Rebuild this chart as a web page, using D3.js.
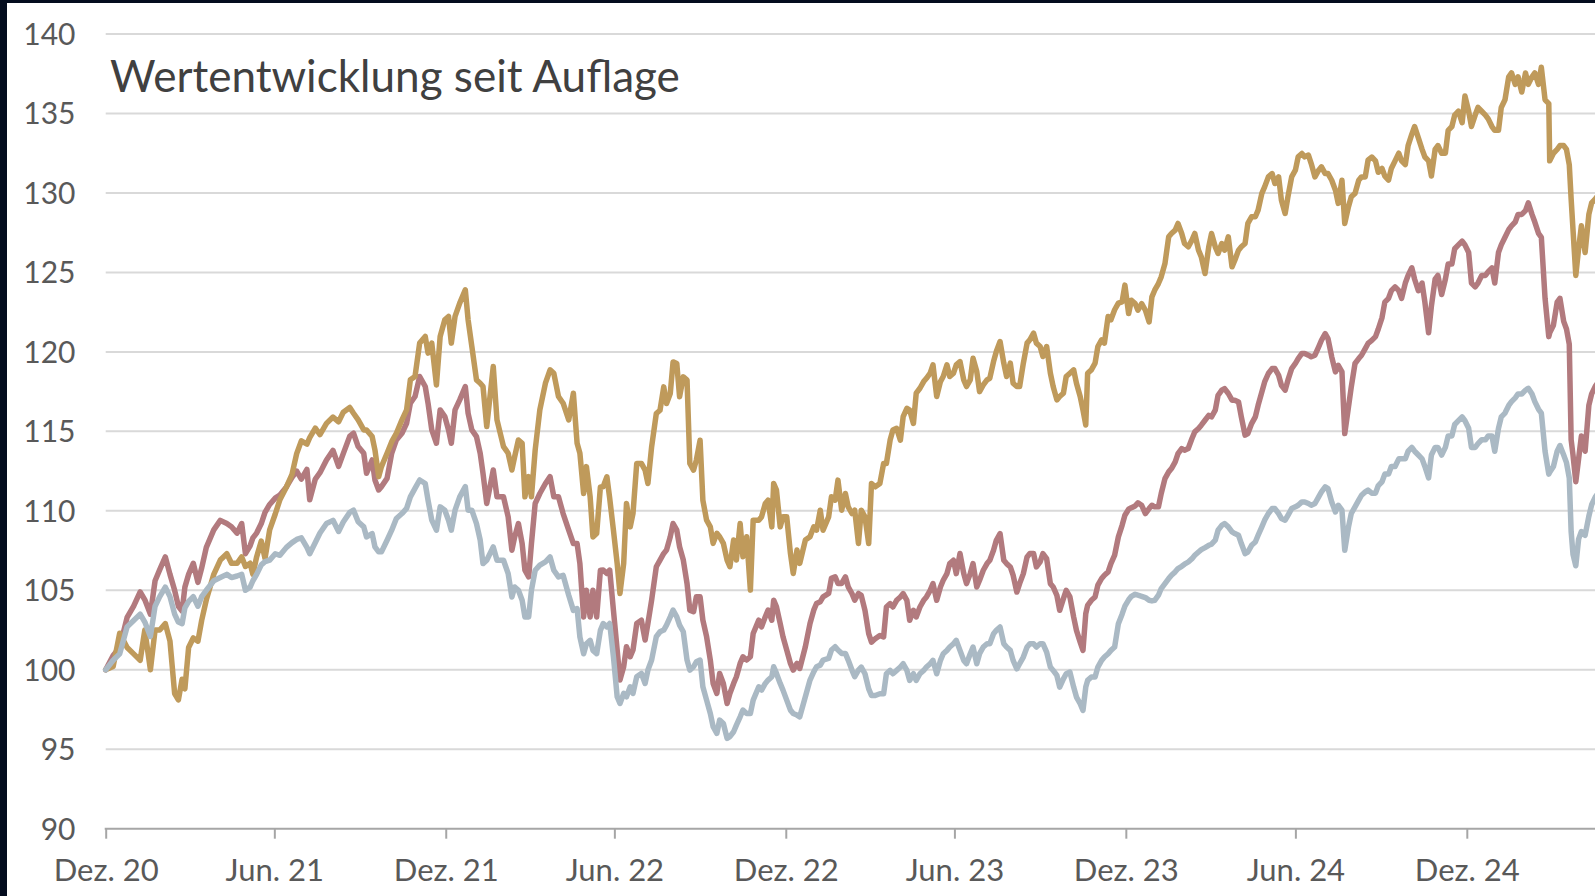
<!DOCTYPE html>
<html>
<head>
<meta charset="utf-8">
<script src="https://cdn.jsdelivr.net/npm/d3@7"></script>
<style>
html,body{margin:0;padding:0;background:#fff;overflow:hidden}
svg{display:block}
</style>
</head>
<body>
<svg id="chart" width="1595" height="896"></svg>
<script>
// ---------- data ----------
const chartTitle = "Wertentwicklung seit Auflage";
const launchDate = "2020-12-31";
const yTickValues = [90, 95, 100, 105, 110, 115, 120, 125, 130, 135, 140];
const xTickDates = ["2020-12-31","2021-06-30","2021-12-31","2022-06-30","2022-12-31","2023-06-30","2023-12-31","2024-06-30","2024-12-31"];
const xTickLabels = ["Dez. 20","Jun. 21","Dez. 21","Jun. 22","Dez. 22","Jun. 23","Dez. 23","Jun. 24","Dez. 24"];

// days since launch
const dayOffsets = [
0,8,15,23,30,37,42,48,53,58,64,69,74,78,82,85,89,94,99,103,108,116,123,130,135,141,146,150,155,158,162,167,171,176,182,187,194,200,205,210,216,219,225,230,237,244,250,255,262,
266,271,277,280,286,289,293,296,302,307,312,318,323,327,332,337,343,346,350,355,359,364,368,371,375,380,386,389,393,398,402,405,409,416,420,427,432,436,439,443,447,450,454,457,461,466,472,477,481,486,491,497,502,506,509,513,516,520,523,527,531,
534,538,541,545,549,552,556,559,563,566,570,575,579,582,586,591,595,599,602,606,609,613,616,620,624,627,631,634,638,641,645,649,652,656,659,663,667,670,674,677,681,684,688,692,695,701,704,708,711,715,717,720,724,727,731,735,738,742,745,751,756,760,763,767,770,776,779,783,786,790,794,797,801,804,808,
811,815,819,822,826,831,835,838,842,845,849,853,856,860,863,867,870,874,878,881,885,888,892,896,899,903,906,910,913,917,921,924,928,931,935,938,942,946,949,953,956,960,964,967,971,974,978,981,985,989,992,996,999,1003,1006,1010,1014,1017,1021,1024,1028,1031,1035,1039,1042,1046,1049,1052,1054,1058,1062,1065,1069,1072,1076,1079,1083,1087,
1091,1094,1098,1101,1105,1108,1112,1116,1120,1123,1126,1130,1133,1137,1141,1144,1148,1151,1155,1158,1162,1166,1169,1173,1176,1180,1184,1187,1191,1194,1198,1201,1205,1209,1212,1216,1219,1223,1226,1230,1234,1237,1241,1244,1248,1252,1255,1259,1262,1266,1269,1273,1277,1280,1284,1287,1291,1294,1298,1302,1305,1309,1312,1316,1320,1323,1327,1330,1334,1337,1341,1345,1348,1352,1355,
1359,1363,1366,1370,1373,1377,1380,1384,1388,1391,1395,1398,1402,1405,1409,1413,1416,1420,1423,1427,1430,1434,1438,1441,1445,1448,1452,1456,1459,1463,1466,1470,1473,1477,1481,1484,1488,1491,1495,1498,1502,1506,1509,1513,1516,1520,1524,1527,1531,1534,1538,1541,1545,1549,1550,1554,1558,1561,1565,1568,1571,1573,1575,1578,1581,1584,1588,1592,1595,1599,1602
];

const seriesGold = [
100.0,100.2,102.3,101.4,101.0,100.6,102.5,100.0,102.5,102.5,102.9,101.8,98.5,98.1,99.4,98.8,101.4,102.0,101.8,103.1,104.4,106.0,106.9,107.3,106.7,106.7,107.1,106.5,106.7,106.0,107.1,108.1,107.0,108.8,109.8,110.7,111.5,112.3,113.6,114.4,114.2,114.6,115.2,114.8,115.5,115.9,115.6,116.2,116.5,
116.14,115.72,115.09,115.09,114.67,113.83,112.15,112.78,113.62,114.35,114.88,115.72,116.35,118.24,118.45,120.55,120.97,119.92,120.55,117.92,120.97,122.02,122.23,120.55,122.23,123.07,123.91,122.02,120.34,118.24,118.03,117.82,115.30,119.08,115.72,114.04,113.62,112.57,113.41,114.46,114.25,110.88,112.15,110.88,113.83,116.35,118.03,118.87,118.66,117.19,116.77,115.72,117.40,114.25,113.62,111.09,112.78,110.88,108.36,108.57,111.50,
111.51,112.14,110.78,108.78,106.69,104.80,106.69,110.46,108.99,109.83,112.98,112.98,112.56,111.72,114.03,116.12,116.33,117.80,116.75,117.38,119.37,119.27,117.17,118.43,118.22,112.98,112.56,113.19,114.44,110.67,109.41,108.99,107.95,108.58,108.37,107.95,106.90,106.48,108.16,106.90,109.20,107.11,108.37,105.01,109.41,109.41,109.62,110.46,110.67,108.99,111.72,111.30,108.99,109.62,109.62,107.32,106.06,107.53,106.69,108.16,108.37,108.99,108.78,110.04,108.78,109.62,110.88,110.67,111.93,110.04,111.09,110.25,109.83,110.04,107.95,
110.04,109.62,107.94,111.72,111.51,111.72,112.98,112.98,114.45,115.08,115.19,114.45,115.92,116.45,116.34,115.50,117.40,117.71,118.13,118.34,118.66,119.18,117.19,118.13,118.45,119.18,118.45,118.66,119.18,119.39,118.24,117.82,118.24,119.60,118.76,117.50,117.92,118.24,118.34,119.39,120.02,120.65,119.29,118.45,119.29,118.03,117.82,117.82,119.29,120.55,120.76,121.18,120.55,120.34,119.71,120.34,118.66,117.82,116.98,117.19,117.40,118.45,118.66,118.87,118.03,117.19,116.34,115.40,118.66,118.87,119.29,120.34,120.76,120.55,122.23,122.02,122.65,123.07,
123.15,124.20,122.41,123.25,123.04,122.62,123.04,122.62,121.89,123.46,123.88,124.30,124.72,125.56,127.24,127.45,127.66,128.08,127.45,126.82,126.61,127.03,127.45,126.40,125.98,124.93,126.61,127.45,126.61,126.19,126.82,126.40,127.24,125.35,125.77,126.40,126.61,126.82,128.08,128.50,128.50,128.92,129.97,130.38,131.01,131.22,130.59,131.01,129.54,128.71,129.76,131.01,131.43,132.27,132.48,132.27,132.38,131.85,131.01,131.43,131.64,131.22,131.22,130.80,130.17,129.34,130.80,128.08,129.13,129.76,129.97,130.80,131.01,131.01,132.06,
132.26,132.02,131.30,131.54,131.06,130.81,131.54,132.02,132.50,132.02,131.78,132.98,133.70,134.18,133.46,132.74,132.26,132.02,131.06,132.74,132.98,132.50,132.50,133.94,134.18,134.90,135.14,134.42,136.10,135.14,134.18,134.90,135.38,135.14,134.90,134.66,134.18,133.94,133.94,135.38,135.86,137.31,137.55,136.83,137.31,136.35,137.55,136.83,137.31,137.55,136.83,137.91,135.86,135.62,132.02,132.50,132.74,132.98,132.98,132.74,131.78,129.62,127.69,124.81,126.49,127.93,126.25,128.65,129.37,129.62,129.86
];

const seriesRed = [
100.0,100.9,101.4,103.3,104.0,104.9,104.4,103.5,105.6,106.3,107.1,106.0,105.0,104.0,103.7,105.2,106.0,106.7,105.5,106.4,107.7,108.8,109.4,109.2,109.0,108.6,109.2,107.3,107.8,108.3,108.6,109.2,109.9,110.4,110.8,111.0,111.5,112.1,112.5,112.0,112.6,110.7,112.0,112.4,113.2,113.8,112.8,113.6,114.7,
114.88,114.04,113.62,112.36,113.20,111.94,111.31,111.52,112.04,113.62,114.46,114.88,115.51,116.77,117.19,118.45,117.82,116.77,115.09,114.25,116.35,115.93,115.09,114.25,116.35,116.98,117.82,116.14,115.09,114.67,113.62,112.36,110.46,112.57,110.88,110.88,109.62,107.52,108.36,109.20,107.94,106.26,105.84,107.94,110.46,111.09,111.72,112.15,110.88,110.88,109.83,108.78,107.94,107.94,106.68,103.32,105.00,103.32,105.00,103.32,106.26,
106.27,106.06,106.27,103.75,101.24,99.35,100.19,101.45,100.82,101.24,102.91,103.12,101.87,102.91,104.38,106.48,106.90,107.32,107.53,108.37,109.20,108.78,107.74,106.90,105.43,103.75,103.65,104.59,104.59,103.12,102.08,100.61,99.14,98.51,99.77,99.14,97.88,98.51,99.14,99.56,100.40,100.82,100.61,100.82,102.28,103.12,102.70,103.33,103.75,103.12,104.38,103.96,102.91,102.08,101.24,100.40,99.98,100.40,100.08,101.45,102.91,103.75,104.17,104.28,104.59,104.80,105.75,105.85,105.43,105.43,105.85,105.22,104.80,104.38,104.80,
104.68,103.74,102.27,101.74,101.95,102.16,102.06,103.95,104.16,103.95,104.37,104.58,104.79,104.37,103.11,103.74,103.32,103.95,104.37,104.58,105.00,105.42,104.37,105.21,105.63,106.05,106.68,106.89,106.05,107.31,106.05,105.42,106.05,106.68,105.21,105.63,106.26,106.68,106.89,107.52,108.15,108.57,106.89,106.68,106.47,105.95,104.89,105.42,106.05,107.10,107.31,107.31,106.47,106.79,107.31,106.99,105.42,105.21,104.68,103.74,104.48,105.00,104.58,103.32,102.48,101.74,101.22,103.53,104.05,104.37,104.58,105.32,105.74,105.95,106.16,106.68,107.21,108.36,
109.09,109.72,110.10,110.20,110.31,110.50,110.35,109.83,110.14,110.35,110.25,110.25,111.09,112.03,112.45,112.66,113.08,113.60,113.92,113.81,113.92,114.55,114.97,115.18,115.39,115.70,116.01,115.91,116.33,117.27,117.59,117.69,117.38,116.96,116.96,116.85,115.91,114.76,114.86,115.49,115.91,116.64,117.48,118.11,118.64,118.95,118.95,118.53,117.90,117.59,118.22,118.95,119.27,119.58,119.90,119.90,119.79,119.69,119.79,120.32,120.73,121.15,120.84,119.69,118.74,119.16,118.74,114.86,116.54,117.80,119.27,119.58,119.79,120.21,120.53,
120.72,120.96,121.44,122.16,123.13,123.37,123.85,124.09,123.85,123.37,124.33,124.81,125.29,124.57,123.85,124.33,123.13,121.20,122.88,124.57,124.81,123.61,124.57,125.53,125.53,126.49,126.73,126.97,126.73,126.25,124.33,124.09,124.33,124.81,124.81,125.05,125.29,124.33,126.25,126.73,127.21,127.69,127.93,128.17,128.65,128.65,128.89,129.37,128.65,128.17,127.45,127.21,123.37,120.96,121.20,121.68,123.13,123.37,121.92,121.44,120.48,114.47,113.51,111.83,113.27,114.71,113.75,116.63,117.36,117.84,118.08
];

const seriesBlue = [
100.0,100.6,101.0,102.7,103.1,103.5,103.0,102.1,104.0,104.6,105.2,104.6,103.5,103.0,102.9,103.9,104.3,104.6,104.0,104.6,105.0,105.6,105.8,106.0,105.8,105.9,106.0,105.0,105.2,105.6,106.0,106.6,106.8,106.9,107.3,107.2,107.7,108.0,108.2,108.3,107.7,107.3,108.0,108.6,109.2,109.4,108.7,109.3,109.9,
110.04,109.31,108.99,108.36,108.57,107.73,107.42,107.42,108.15,108.78,109.52,109.83,110.15,110.88,111.41,111.94,111.72,110.67,109.41,108.78,110.25,110.04,109.41,108.78,110.04,110.88,111.52,110.04,110.04,109.20,108.15,106.68,106.89,107.73,106.89,106.89,106.05,104.58,105.21,105.00,104.37,103.32,103.32,105.00,106.26,106.58,106.79,107.10,106.26,105.84,105.94,104.69,103.74,103.85,102.06,101.01,101.64,101.85,101.22,101.01,102.48,
102.91,102.70,102.91,100.82,98.30,97.88,98.51,98.30,98.93,98.51,99.56,99.77,99.14,99.98,100.61,102.08,102.39,102.50,102.81,103.33,103.75,103.33,102.81,102.39,100.61,99.98,100.19,100.50,100.61,98.93,98.09,97.25,96.42,96.00,96.83,96.62,95.68,95.79,96.10,96.52,97.04,97.46,97.25,97.25,98.09,98.93,98.72,99.14,99.35,99.56,100.19,99.77,99.14,98.72,98.09,97.46,97.25,97.15,97.04,98.30,99.35,99.87,100.19,100.29,100.61,100.71,101.24,101.45,101.24,101.03,101.03,100.61,99.98,99.56,99.98,
100.17,99.75,98.80,98.38,98.38,98.49,98.49,99.75,99.96,99.75,99.96,100.17,100.38,99.96,99.33,99.75,99.33,99.75,99.96,100.17,100.38,100.59,99.75,100.59,101.01,101.22,101.43,101.64,101.85,101.22,100.59,100.38,101.01,101.43,100.38,101.01,101.43,101.64,101.64,102.27,102.48,102.69,101.64,101.43,101.22,100.59,100.06,100.38,100.80,101.43,101.64,101.64,101.43,101.64,101.64,101.11,100.17,99.96,99.64,98.91,99.43,99.75,99.85,98.91,98.28,97.86,97.44,98.91,99.33,99.54,99.54,100.17,100.59,100.80,101.01,101.22,101.43,102.90,
103.5,104.0,104.4,104.62,104.75,104.69,104.62,104.54,104.37,104.33,104.37,104.69,105.11,105.42,105.74,105.95,106.16,106.37,106.51,106.64,106.78,106.99,107.20,107.41,107.56,107.69,107.83,107.90,108.15,108.78,109.09,109.20,108.99,108.67,108.57,108.46,107.94,107.31,107.41,107.83,108.04,108.46,108.99,109.41,109.83,110.14,110.14,109.83,109.52,109.41,109.72,110.14,110.25,110.35,110.56,110.56,110.46,110.35,110.46,110.88,111.19,111.51,111.40,110.56,109.93,110.35,110.04,107.52,108.98,109.83,110.25,110.67,110.98,111.19,111.30,
111.11,111.11,111.59,111.83,112.31,112.31,112.79,112.79,113.27,113.27,113.27,113.75,113.99,113.75,113.51,113.27,112.79,112.07,113.51,113.99,113.99,113.51,113.99,114.71,114.71,115.43,115.67,115.91,115.67,115.19,113.99,113.99,114.23,114.47,114.47,114.71,114.71,113.75,115.19,115.91,116.15,116.63,116.87,117.11,117.35,117.35,117.59,117.71,117.35,116.87,116.39,116.15,113.75,112.31,112.43,112.79,113.75,114.11,113.51,113.03,112.07,108.70,107.26,106.54,108.22,108.70,108.46,109.66,110.38,110.87,111.11
];

const seriesColors = {red: "#b27a7e", gold: "#bf9a5b", blue: "#aab9c4"};

// ---------- layout ----------
const W = 1595, H = 896;
const plotLeft = 105.7, plotRight = W;
const yTop = 34, yBottom = 828.7;
const xRefEnd = 1466.8; // position of Dez. 24

const svg = d3.select("#chart");
const parse = d3.timeParse("%Y-%m-%d");
const launch = parse(launchDate);

const x = d3.scaleTime()
  .domain([launch, parse(xTickDates[xTickDates.length - 1])])
  .range([plotLeft, xRefEnd]);
const y = d3.scaleLinear().domain([90, 140]).range([yBottom, yTop]);

svg.append("rect").attr("width", W).attr("height", H).attr("fill", "#ffffff");

// gridlines
svg.append("g").selectAll("line")
  .data(yTickValues.filter(v => v !== 90))
  .join("line")
  .attr("x1", plotLeft).attr("x2", plotRight)
  .attr("y1", d => y(d)).attr("y2", d => y(d))
  .attr("stroke", "#d9d9d9").attr("stroke-width", 2);

// y labels
svg.append("g").selectAll("text")
  .data(yTickValues)
  .join("text")
  .attr("x", 75.5)
  .attr("y", d => y(d))
  .attr("dy", "0.36em")
  .attr("text-anchor", "end")
  .attr("font-family", "Lato, 'Open Sans', sans-serif")
  .attr("font-size", 30)
  .attr("fill", "#595959")
  .text(d => d);

// x axis
const tickDates = xTickDates.map(parse);
const xAxis = d3.axisBottom(x)
  .tickValues(tickDates)
  .tickFormat((d, i) => xTickLabels[i])
  .tickSize(10)
  .tickSizeOuter(0);
const gx = svg.append("g").attr("transform", `translate(0,${yBottom})`).call(xAxis);
gx.select(".domain").remove();
gx.selectAll(".tick line").attr("stroke", "#a6a6a6").attr("stroke-width", 2);
gx.selectAll(".tick text")
  .attr("y", 52).attr("dy", 0)
  .attr("font-family", "Lato, 'Open Sans', sans-serif")
  .attr("font-size", 31)
  .attr("fill", "#595959");
svg.append("line")
  .attr("x1", plotLeft - 1).attr("x2", plotRight)
  .attr("y1", yBottom).attr("y2", yBottom)
  .attr("stroke", "#a6a6a6").attr("stroke-width", 2);

// title
const t = svg.append("text")
  .attr("x", 110).attr("y", 91.5)
  .attr("font-family", "Lato, 'Open Sans', sans-serif")
  .attr("font-size", 42)
  .attr("fill", "#404040")
  .text(chartTitle);
const tl = t.node().getComputedTextLength();
if (tl > 0) t.attr("font-size", 42 * 570 / tl);

// lines
const dates = dayOffsets.map(d => d3.timeDay.offset(launch, d));
const lineGen = d3.line()
  .x(d => x(d[0]))
  .y(d => y(d[1]));
const seriesList = [
  {key: "red", values: seriesRed},
  {key: "gold", values: seriesGold},
  {key: "blue", values: seriesBlue}
];
svg.append("g").selectAll("path")
  .data(seriesList)
  .join("path")
  .attr("d", s => lineGen(dates.map((dt, i) => [dt, s.values[i]]).filter(p => p[1] != null)))
  .attr("fill", "none")
  .attr("stroke", s => seriesColors[s.key])
  .attr("stroke-width", 5.5)
  .attr("stroke-linejoin", "round")
  .attr("stroke-linecap", "round");

// dark frame edges
svg.append("rect").attr("x", 0).attr("y", 0).attr("width", 7).attr("height", H).attr("fill", "#030c1e");
svg.append("rect").attr("x", 0).attr("y", 0).attr("width", W).attr("height", 3).attr("fill", "#030c1e");
</script>
</body>
</html>
